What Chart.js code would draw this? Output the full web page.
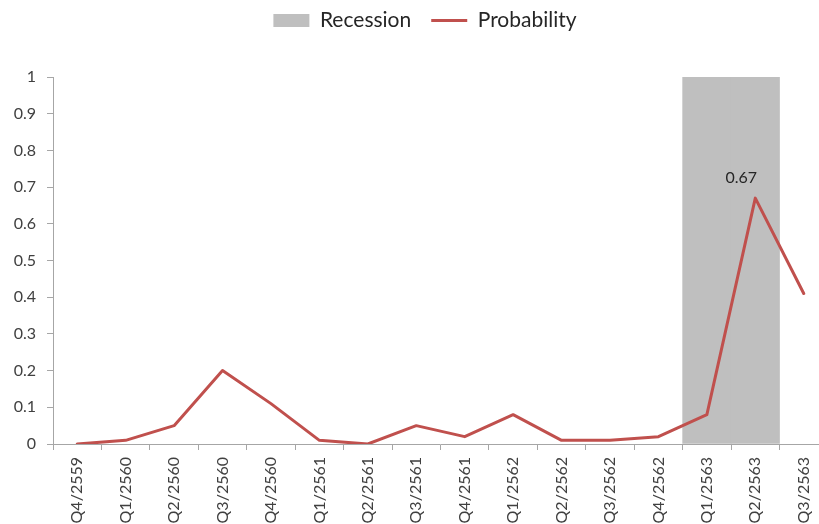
<!DOCTYPE html>
<html>
<head>
<meta charset="utf-8">
<script src="https://cdn.jsdelivr.net/npm/chart.js@4/dist/chart.umd.min.js"></script>
<style>
  html, body { margin: 0; padding: 0; background: #fff; overflow: hidden; }
  #wrap { width: 830px; height: 524px; position: relative; }
</style>
</head>
<body>
<div id="wrap"><canvas id="chart"></canvas></div>
<script>
// Dados do gráfico
const quarters = ['Q4/2559', 'Q1/2560', 'Q2/2560', 'Q3/2560', 'Q4/2560', 'Q1/2561', 'Q2/2561', 'Q3/2561',
                  'Q4/2561', 'Q1/2562', 'Q2/2562', 'Q3/2562', 'Q4/2562', 'Q1/2563', 'Q2/2563', 'Q3/2563'];
const probability = [0, 0.01, 0.05, 0.2, 0.11, 0.01, 0, 0.05, 0.02, 0.08, 0.01, 0.01, 0.02, 0.08, 0.67, 0.41];
const recession = [null, null, null, null, null, null, null, null, null, null, null, null, null, 1, 1, null];
const yTicks = [0, 0.1, 0.2, 0.3, 0.4, 0.5, 0.6, 0.7, 0.8, 0.9, 1];
const labelIndex = 14;

const FONT = 'Lato, "Open Sans", sans-serif';
const AXIS = '#a6a6a6';
const TEXT = '#404040';

// Legenda: altura fixa e pequeno deslocamento
const legendTweak = {
    id: 'legendTweak',
    beforeInit(chart) {
        const legend = chart.legend;
        const fit = legend.fit;
        legend.fit = function () {
            fit.call(legend);
            this.height = 77;
        };
        const draw = legend.draw;
        legend.draw = function () {
            const ctx = chart.ctx;
            ctx.save();
            ctx.translate(11, -10);
            draw.call(legend);
            ctx.restore();
        };
    }
};

// Rótulo do valor máximo
const pointLabel = {
    id: 'pointLabel',
    afterDatasetsDraw(chart) {
        const meta = chart.getDatasetMeta(0);
        const pt = meta.data[labelIndex];
        const ctx = chart.ctx;
        ctx.save();
        ctx.font = '16px ' + FONT;
        ctx.fillStyle = '#262626';
        ctx.textAlign = 'center';
        ctx.textBaseline = 'middle';
        ctx.fillText(String(probability[labelIndex]), pt.x - 14, pt.y - 20);
        ctx.restore();
    }
};

new Chart(document.getElementById('chart'), {
    type: 'bar',
    data: {
        labels: quarters,
        datasets: [
            {
                type: 'line',
                label: 'Probability',
                data: probability,
                borderColor: '#c0504d',
                backgroundColor: '#c0504d',
                borderWidth: 3,
                borderJoinStyle: 'round',
                borderCapStyle: 'round',
                tension: 0,
                pointRadius: 0,
                pointStyle: 'line'
            },
            {
                type: 'bar',
                label: 'Recession',
                data: recession,
                backgroundColor: '#bfbfbf',
                borderWidth: 0,
                barPercentage: 1,
                categoryPercentage: 1,
                pointStyle: 'rect'
            }
        ]
    },
    options: {
        responsive: true,
        maintainAspectRatio: false,
        animation: false,
        layout: { padding: { left: 0, right: 2, top: 0, bottom: 0 } },
        plugins: {
            tooltip: { enabled: false },
            legend: {
                position: 'top',
                reverse: true,
                labels: {
                    usePointStyle: true,
                    pointStyleWidth: 36,
                    boxHeight: 13,
                    padding: 20,
                    color: '#262626',
                    font: { family: FONT, size: 21 }
                }
            }
        },
        scales: {
            x: {
                offset: true,
                grid: { display: true, offset: true, drawOnChartArea: false, tickLength: 6, color: AXIS },
                border: { color: AXIS },
                ticks: {
                    autoSkip: false,
                    maxRotation: 90,
                    minRotation: 90,
                    padding: 7,
                    color: TEXT,
                    font: { family: FONT, size: 16 }
                },
                afterFit(scale) { scale.height = 80; }
            },
            y: {
                min: 0,
                max: 1,
                grid: { display: true, drawOnChartArea: false, tickLength: 6, color: AXIS },
                border: { color: AXIS },
                afterBuildTicks(scale) { scale.ticks = yTicks.map(v => ({ value: v })); },
                ticks: {
                    padding: 11,
                    color: TEXT,
                    font: { family: FONT, size: 16 },
                    callback: v => String(Math.round(v * 10) / 10)
                },
                afterFit(scale) { scale.width = 53; }
            }
        }
    },
    plugins: [legendTweak, pointLabel]
});
</script>
</body>
</html>
